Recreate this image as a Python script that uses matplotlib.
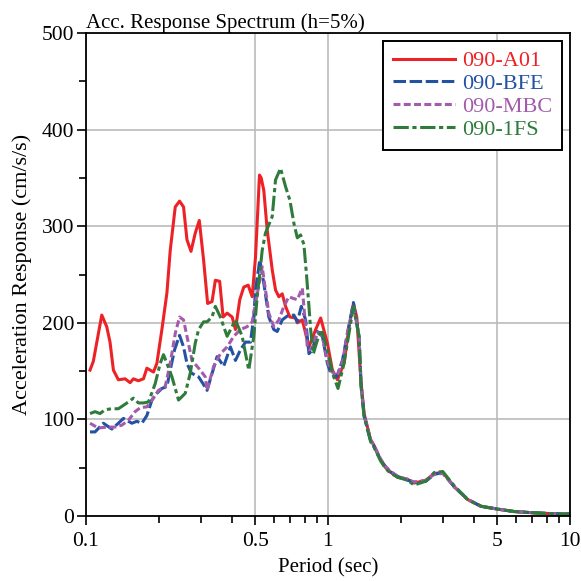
import numpy as np
import matplotlib
matplotlib.use("Agg")
import matplotlib.pyplot as plt
from matplotlib.ticker import FixedLocator, NullFormatter

plt.rcParams['font.family'] = ['Liberation Serif', 'DejaVu Serif']
plt.rcParams['lines.scale_dashes'] = False

# shared long-period tail (all four records nearly coincide here)
tail_T = [1.37, 1.41, 1.50, 1.55, 1.65, 1.73, 1.80, 1.94, 2.13, 2.27, 2.54, 2.75,
          2.98, 3.33, 3.78, 4.29, 5.04, 5.9, 6.92, 8.0, 9.48, 10.0]
tail_red = [138, 106, 79, 73, 58, 50, 46, 40, 38, 34, 37, 44, 45, 30, 17, 10, 7, 4.5, 3.4, 2.6, 2.0, 2.0]
tail_blue = [136, 104, 78, 72, 58, 51, 46, 41, 37, 35, 36, 43, 45, 30, 17, 10, 7, 4.5, 3.4, 2.6, 2.0, 2.0]
tail_purple = [137, 105, 79, 73, 59, 51, 47, 41, 38, 35, 37, 43, 44, 30, 17, 10, 7, 4.5, 3.4, 2.6, 2.0, 2.0]
tail_green = [134, 103, 77, 71, 57, 49, 45, 40, 37, 32, 36, 45, 46, 31, 17, 10, 7, 4.5, 3.4, 2.6, 2.0, 2.0]

# 090-A01
red_T = [0.1039, 0.1072, 0.1162, 0.1218, 0.1257, 0.1298, 0.1361, 0.1451, 0.1522, 0.1570,
         0.1647, 0.1728, 0.1785, 0.1901, 0.1963, 0.2059, 0.2160, 0.2229, 0.2338, 0.2436,
         0.2530, 0.2614, 0.2716, 0.2829, 0.2939, 0.3062, 0.3182, 0.3318, 0.3424, 0.3568,
         0.3686, 0.3830, 0.4018, 0.4146, 0.4320, 0.4488, 0.4679, 0.4862, 0.5018, 0.5212,
         0.5297, 0.5431, 0.5609, 0.5749, 0.5882, 0.6071, 0.6265, 0.6471, 0.6679, 0.6959,
         0.7348, 0.7469, 0.7833, 0.8344, 0.8892, 0.9327, 0.9943, 1.043, 1.094, 1.165,
         1.222, 1.274, 1.315]
red_v = [151, 160, 208, 196, 180, 151, 141, 142, 138, 142,
         140, 142, 153, 149, 158, 193, 231, 275, 320, 326,
         320, 286, 274, 293, 306, 265, 220, 222, 244, 243,
         206, 210, 206, 193, 224, 237, 239, 227, 268, 353,
         350, 337, 296, 275, 255, 234, 227, 230, 217, 206,
         205, 200, 203, 175, 193, 205, 179, 151, 141, 158,
         196, 220, 206]

# 090-BFE
blue_T = [0.1039, 0.1090, 0.1180, 0.1278, 0.1361, 0.1428, 0.1547, 0.1622, 0.1702, 0.1785,
          0.1873, 0.1963, 0.2059, 0.2160, 0.2229, 0.2322, 0.2436, 0.2530, 0.2614, 0.2724,
          0.2920, 0.3062, 0.3164, 0.3481, 0.3707, 0.3953, 0.4146, 0.4349, 0.4560, 0.4783,
          0.4937, 0.5018, 0.5227, 0.5431, 0.5695, 0.5973, 0.6170, 0.6471, 0.6789, 0.7231,
          0.7469, 0.7760, 0.8085, 0.8344, 0.8619, 0.9039, 0.9480, 0.9943, 1.026, 1.087,
          1.147, 1.204, 1.274, 1.344]
blue_v = [87, 87, 96, 90, 96, 101, 96, 98, 96, 104,
          120, 127, 132, 134, 151, 172, 187, 175, 158, 148,
          144, 136, 130, 165, 155, 175, 161, 172, 180, 180,
          206, 234, 265, 241, 206, 193, 191, 203, 207, 208,
          201, 217, 203, 168, 172, 191, 186, 158, 148, 144,
          161, 189, 221, 186]

# 090-MBC
purple_T = [0.1039, 0.1124, 0.1218, 0.1319, 0.1406, 0.1497, 0.1596, 0.1674, 0.1785, 0.1873,
            0.1993, 0.2125, 0.2229, 0.2338, 0.2436, 0.2530, 0.2614, 0.2742, 0.2967, 0.3112,
            0.3164, 0.3370, 0.3592, 0.3830, 0.4080, 0.4349, 0.4634, 0.4862, 0.5018, 0.5348,
            0.5518, 0.5695, 0.5973, 0.6265, 0.6572, 0.6893, 0.7231, 0.7469, 0.7833, 0.8217,
            0.8344, 0.8619, 0.9039, 0.9480, 0.9943, 1.030, 1.090, 1.150, 1.204, 1.274, 1.344]
purple_v = [96, 91, 92, 92, 94, 99, 108, 112, 113, 120,
            130, 134, 158, 189, 206, 203, 186, 161, 151, 144,
            130, 155, 168, 175, 186, 193, 196, 201, 220, 258,
            234, 210, 196, 203, 217, 227, 225, 224, 236, 175,
            172, 174, 190, 186, 160, 150, 145, 160, 190, 218, 186]

# 090-1FS
green_T = [0.1039, 0.1090, 0.1143, 0.1199, 0.1278, 0.1361, 0.1497, 0.1570, 0.1647, 0.1728,
           0.1812, 0.1932, 0.2026, 0.2091, 0.2160, 0.2266, 0.2412, 0.2572, 0.2698, 0.2829,
           0.2920, 0.3062, 0.3164, 0.3318, 0.3424, 0.3592, 0.3830, 0.4146, 0.4420, 0.4706,
           0.4937, 0.5100, 0.5348, 0.5518, 0.5882, 0.6071, 0.6368, 0.6679, 0.6959, 0.7231,
           0.7469, 0.7708, 0.7954, 0.8162, 0.8344, 0.8479, 0.8701, 0.9039, 0.9390, 0.9943,
           1.043, 1.100, 1.165, 1.274, 1.344]
green_v = [106, 108, 106, 110, 111, 111, 118, 122, 117, 117,
           118, 137, 158, 167, 158, 144, 120, 127, 148, 179,
           193, 201, 201, 206, 217, 206, 186, 203, 186, 151,
           186, 227, 275, 293, 310, 348, 360, 341, 327, 303,
           288, 291, 281, 248, 217, 193, 168, 182, 193, 172,
           148, 132, 158, 217, 186]

series = [
    ("090-A01", red_T + tail_T, red_v + tail_red, '#ed2226', None),
    ("090-BFE", blue_T + tail_T, blue_v + tail_blue, '#2452a3', (0, (9, 2.6))),
    ("090-MBC", purple_T + tail_T, purple_v + tail_purple, '#a35cac', (0, (5, 2.4))),
    ("090-1FS", green_T + tail_T, green_v + tail_green, '#2f7b3c', (0, (11, 2.6, 3.0, 2.6))),
]

fig = plt.figure(figsize=(5.81, 5.81), dpi=100)
ax = fig.add_axes([0.148, 0.112, 0.833, 0.831])

for name, T, v, col, ls in series:
    if ls is None:
        ax.plot(T, v, color=col, lw=2.2, label=name, solid_joinstyle='round')
    else:
        ax.plot(T, v, color=col, lw=2.2, linestyle=ls, label=name)

ax.set_xscale('log')
ax.set_xlim(0.1, 10)
ax.set_ylim(0, 500)

ax.xaxis.set_major_locator(FixedLocator([0.1, 0.5, 1, 5, 10]))
ax.set_xticklabels(['0.1', '0.5', '1', '5', '10'])
minor_x = [0.2, 0.3, 0.4, 0.6, 0.7, 0.8, 0.9, 2, 3, 4, 6, 7, 8, 9]
ax.xaxis.set_minor_locator(FixedLocator(minor_x))
ax.xaxis.set_minor_formatter(NullFormatter())
ax.set_yticks([0, 100, 200, 300, 400, 500])
ax.yaxis.set_minor_locator(FixedLocator([50, 150, 250, 350, 450]))

ax.grid(True, which='major', color='#bbbbbb', lw=1.2)
ax.set_axisbelow(True)
for s in ax.spines.values():
    s.set_linewidth(1.3)
ax.tick_params(which='major', direction='out', length=6.5, width=1.2, labelsize=15.5, pad=2)
ax.tick_params(axis='x', which='major', pad=5)
ax.tick_params(which='minor', direction='out', length=4.8, width=1.2)

ax.set_xlabel('Period (sec)', fontsize=15, labelpad=5)
ax.set_ylabel('Acceleration Response (cm/s/s)', fontsize=16, labelpad=7)
ax.set_title('Acc. Response Spectrum (h=5%)', loc='left', fontsize=15, pad=1)

leg = ax.legend(loc='upper right', fontsize=16, handlelength=2.8, handletextpad=0.32,
                borderpad=0.45, labelspacing=0.1, borderaxespad=0.35, fancybox=False,
                framealpha=1, edgecolor='black')
leg.get_frame().set_linewidth(1.4)
for txt, s in zip(leg.get_texts(), series):
    txt.set_color(s[3])

fig.savefig('out.png', dpi=100)
